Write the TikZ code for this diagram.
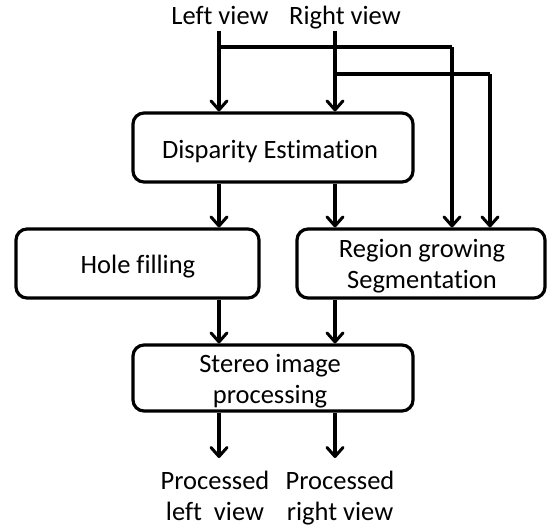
\documentclass[tikz,border=0pt]{standalone}
\usepackage{fontspec}
\setmainfont{Carlito}[Ligatures=NoCommon]
\usetikzlibrary{arrows.meta}
\begin{document}
\begin{tikzpicture}[x=1pt,y=-1pt,
  box/.style={draw,line width=3.2pt,rounded corners=11pt,inner sep=0pt},
  lab/.style={inner sep=0pt,align=center,font=\fontsize{26.5}{31}\selectfont},
  conn/.style={line width=3.2pt,-{Straight Barb[length=9pt,width=16pt,line width=3pt,round]}},
  wire/.style={line width=3.2pt}]
\useasboundingbox (0,0) rectangle (551,531);
% boxes
\node[box,minimum width=280pt,minimum height=69pt] (dis) at (273,147.5) {};
\node[lab,anchor=base] (distxt) at (270,158) {Disparity Estimation};
\node[box,minimum width=243pt,minimum height=69pt] (hole) at (137.5,263.5) {};
\node[lab,anchor=base] (holetxt) at (138,273) {Hole filling};
\node[box,minimum width=248pt,minimum height=69pt] (reg) at (421,263.5) {};
\node[lab] (regtxt) at (422,266) {Region growing\\Segmentation};
\node[box,minimum width=280pt,minimum height=66pt] (ste) at (273,378) {};
\node[lab] (stetxt) at (270,381) {Stereo image\\processing};
% inputs / outputs
\node[lab,anchor=base] (lv) at (220,24) {Left view};
\node[lab,anchor=base] (rv) at (345,24) {Right view};
\node[lab] (plv) at (215,499) {Processed\strut\\left\ \ view\strut};
\node[lab] (prv) at (340,499) {Processed\strut\\right view\strut};
% coordinates
\coordinate (ls) at (219,31);
\coordinate (rs) at (335,31);
\coordinate (lj) at (219,47);
\coordinate (rj) at (335,74);
\coordinate (c1) at (452,47);
\coordinate (c2) at (490,74);
\coordinate (lo) at (219,458);
\coordinate (ro) at (335,458);
% connectors
\draw[conn] (ls) -- (ls |- dis.north);
\draw[conn] (rs) -- (rs |- dis.north);
\draw[wire] (lj) -- (c1);
\draw[conn] (c1) -- (c1 |- reg.north);
\draw[wire] (rj) -- (c2);
\draw[conn] (c2) -- (c2 |- reg.north);
\draw[conn] (219,0 |- dis.south) -- (219,0 |- hole.north);
\draw[conn] (335,0 |- dis.south) -- (335,0 |- reg.north);
\draw[conn] (219,0 |- hole.south) -- (219,0 |- ste.north);
\draw[conn] (335,0 |- reg.south) -- (335,0 |- ste.north);
\draw[conn] (219,0 |- ste.south) -- (lo);
\draw[conn] (335,0 |- ste.south) -- (ro);
\end{tikzpicture}
\end{document}
